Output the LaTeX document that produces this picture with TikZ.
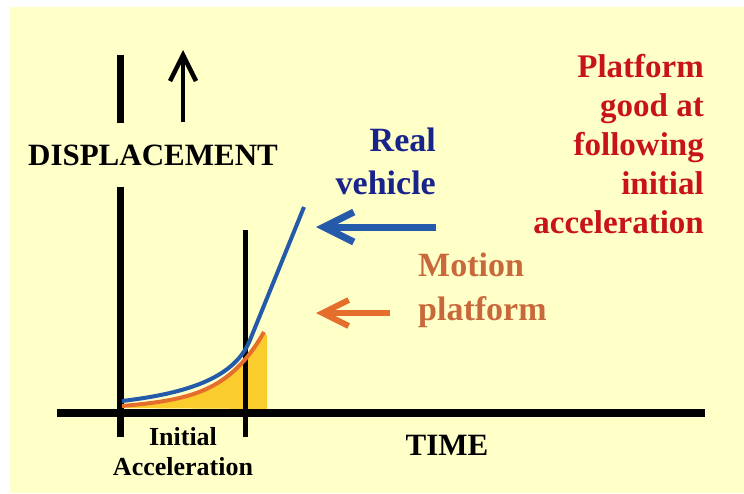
\documentclass[tikz,border=0pt]{standalone}
\usepackage{fontspec}
\setmainfont{Liberation Serif}
\usetikzlibrary{arrows.meta}
\definecolor{paper}{RGB}{255,255,200}
\definecolor{vehblue}{RGB}{35,90,170}
\definecolor{vehtext}{RGB}{25,35,140}
\definecolor{platorange}{RGB}{230,110,45}
\definecolor{plattext}{RGB}{200,105,60}
\definecolor{notered}{RGB}{200,20,25}
\definecolor{area}{RGB}{250,205,45}
\tikzset{
  lbl/.style={inner sep=0pt,font=\bfseries},
  barb/.style={-{Straight Barb[length=#1,width=#1]}}
}
\begin{document}
\begin{tikzpicture}[x=1pt,y=-1pt]
\fill[white] (0,0) rectangle (744,493);
\fill[paper] (10,7) rectangle (744,493);
\useasboundingbox (0,0) rectangle (744,493);
% area under the platform curve
\fill[area] (122,408) .. controls (190,400) and (230,392) .. (264,332) -- (267,336) -- (267,409) -- cycle;
% axes
\draw[line width=8pt] (57,413) -- (705,413);
\draw[line width=7pt] (120,55) -- (120,123);
\draw[line width=7pt] (120,187) -- (120,437);
\draw[line width=5pt] (245,230) -- (245,437);
\coordinate (upfoot) at (183,122);
\coordinate (uphead) at (183,50);
\draw[line width=4.5pt,barb=26pt] (upfoot) -- (uphead);
% curves
\draw[platorange,line width=4pt] (122,406) .. controls (190,400) and (230,392) .. (264,332);
\draw[vehblue,line width=4pt] (122,401) .. controls (190,393) and (235,377) .. (250,340) -- (304,207) coordinate (vehend);
\coordinate (platend) at (316,313);
% labels
\node[lbl,font=\fontsize{31}{36}\selectfont\bfseries] (disp) at (153,155) {DISPLACEMENT};
\node[lbl,font=\fontsize{31}{34}\selectfont\bfseries] (time) at (447,445) {TIME};
\node[lbl,font=\fontsize{26}{30}\selectfont\bfseries,align=center] (initacc) at (183,452) {Initial\\Acceleration};
\node[lbl,vehtext,font=\fontsize{34}{43}\selectfont\bfseries,align=right,anchor=east] (vehicle) at (436,161) {Real\\vehicle};
\node[lbl,plattext,font=\fontsize{34}{44}\selectfont\bfseries,align=left,anchor=west] (platform) at (418,290) {Motion\\platform};
\node[lbl,notered,font=\fontsize{33}{39}\selectfont\bfseries,align=right,anchor=east] (note) at (704,144) {Platform\\good at\\following\\initial\\acceleration};
% pointers
\coordinate (vehtail) at (436,227);
\coordinate (vehtip) at (316,227);
\coordinate (plattail) at (390,313);
\draw[vehblue,line width=7pt,barb=30pt] (vehtail) -- (vehtip);
\draw[platorange,line width=6pt,barb=26pt] (plattail) -- (platend);
\end{tikzpicture}
\end{document}
